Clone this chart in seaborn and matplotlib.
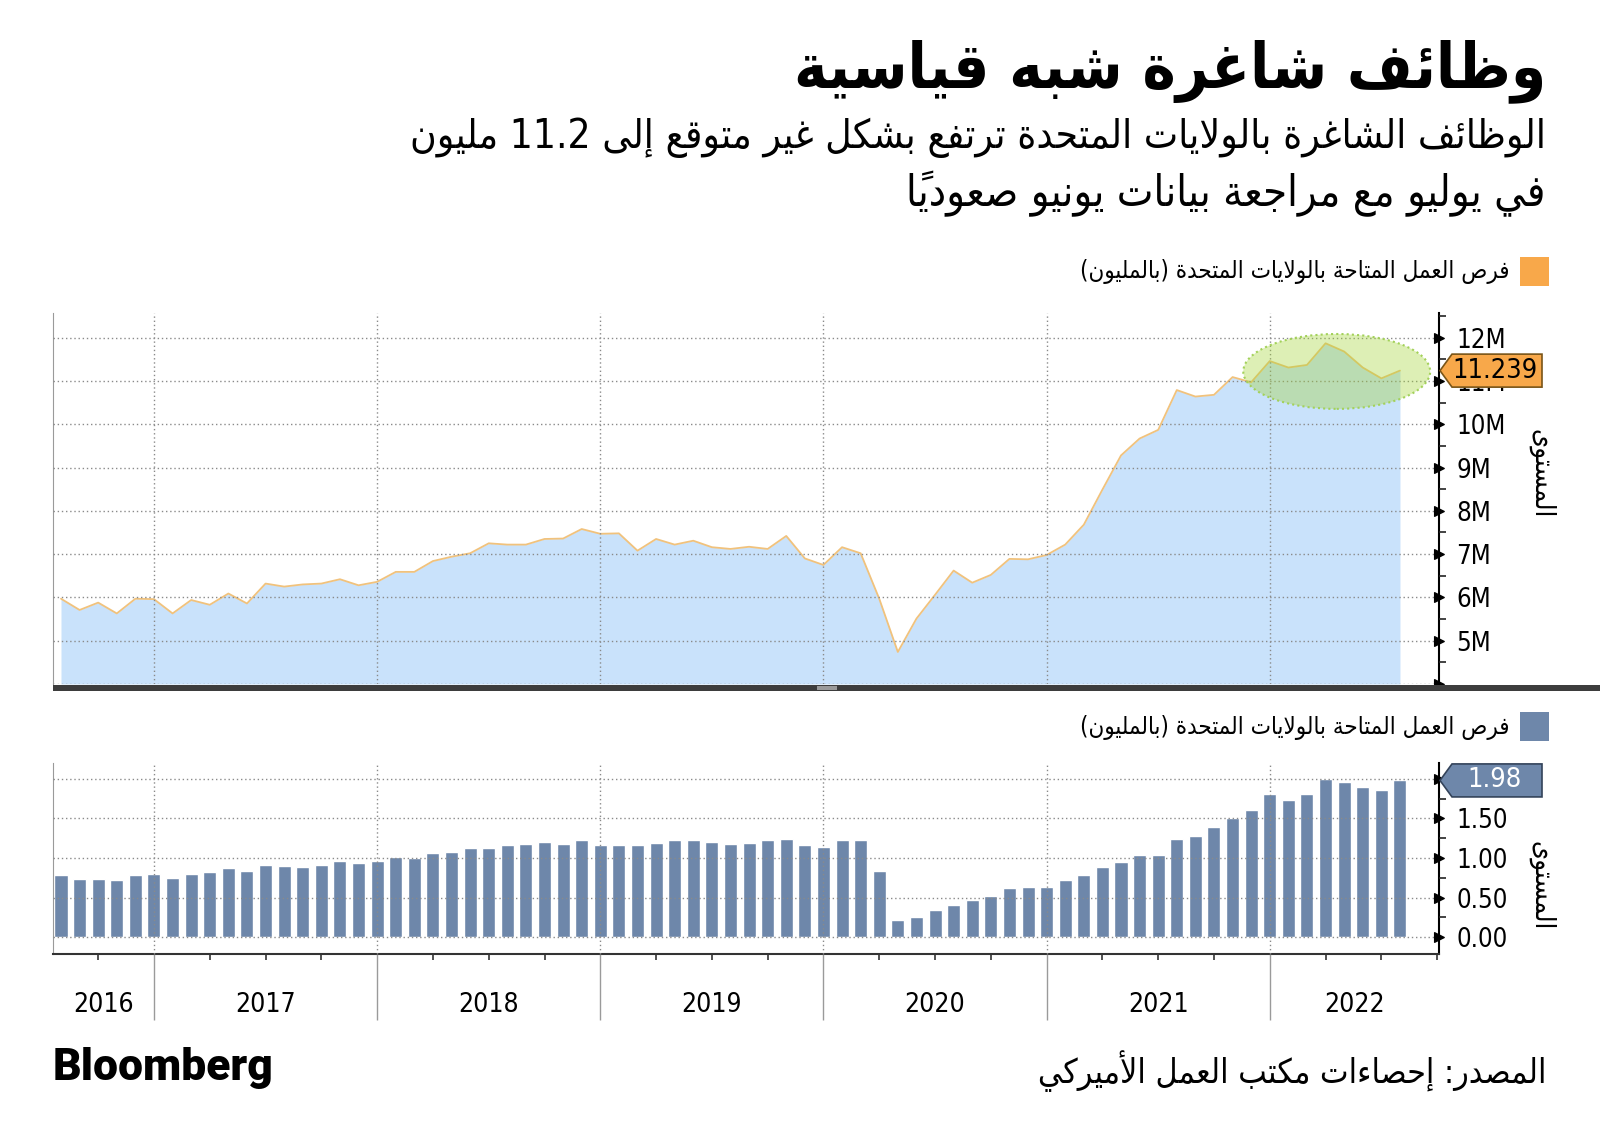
import numpy as np
import pandas as pd
import matplotlib
matplotlib.use("Agg")
import matplotlib.pyplot as plt
import matplotlib.transforms as mtransforms
from matplotlib.patches import Polygon, Rectangle, Ellipse
import seaborn as sns

# ---------------- data ----------------
months = pd.period_range("2016-07", "2022-07", freq="M").strftime("%Y-%m").tolist()
openings = [5.97, 5.71, 5.88, 5.63, 5.97, 5.96, 5.63, 5.94, 5.83, 6.09, 5.86, 6.32,
            6.25, 6.30, 6.32, 6.42, 6.28, 6.36, 6.59, 6.59, 6.84, 6.94, 7.02, 7.25,
            7.22, 7.22, 7.35, 7.36, 7.58, 7.47, 7.48, 7.08, 7.35, 7.22, 7.31, 7.16,
            7.12, 7.17, 7.12, 7.42, 6.90, 6.75, 7.16, 7.02, 5.97, 4.74, 5.51, 6.06,
            6.62, 6.34, 6.52, 6.89, 6.88, 6.98, 7.22, 7.68, 8.49, 9.28, 9.67, 9.87,
            10.79, 10.64, 10.68, 11.09, 10.97, 11.46, 11.31, 11.37, 11.87, 11.68, 11.31, 11.06,
            11.239]
ratio = [0.787, 0.737, 0.737, 0.72, 0.787, 0.804, 0.754, 0.804, 0.821, 0.872, 0.838, 0.918,
         0.901, 0.884, 0.918, 0.964, 0.935, 0.964, 1.015, 0.998, 1.061, 1.078, 1.128, 1.128,
         1.162, 1.179, 1.208, 1.179, 1.225, 1.162, 1.162, 1.162, 1.196, 1.225, 1.225, 1.208,
         1.179, 1.196, 1.225, 1.242, 1.162, 1.145, 1.225, 1.225, 0.834, 0.219, 0.261, 0.345,
         0.413, 0.476, 0.526, 0.623, 0.64, 0.64, 0.72, 0.783, 0.888, 0.947, 1.044, 1.044,
         1.242, 1.276, 1.39, 1.503, 1.604, 1.811, 1.731, 1.811, 2.0, 1.958, 1.891, 1.861,
         1.98]
years = ["2016", "2017", "2018", "2019", "2020", "2021", "2022"]
top_ticks = [4, 5, 6, 7, 8, 9, 10, 11, 12]
top_ticklabels = ["", "5M", "6M", "7M", "8M", "9M", "10M", "11M", "12M"]
bot_ticks = [0.0, 0.5, 1.0, 1.5, 2.0]
bot_ticklabels = ["0.00", "0.50", "1.00", "1.50", ""]   # 2.00 is hidden under the 1.98 tag
last_top_label = "11.239"
last_bot_label = "1.98"

title = "وظائف شاغرة شبه قياسية"
subtitle1 = "الوظائف الشاغرة بالولايات المتحدة ترتفع بشكل غير متوقع إلى 11.2 مليون"
subtitle2 = "في يوليو مع مراجعة بيانات يونيو صعودياً"
legend_text = "فرص العمل المتاحة بالولايات المتحدة (بالمليون)"
axis_label = "المستوى"
source = "المصدر: إحصاءات مكتب العمل الأميركي"

# ---------------- Arabic shaping (presentation forms + RTL order) ----------------
DUAL = {'ئ': 0xFE89, 'ب': 0xFE8F, 'ت': 0xFE95, 'ث': 0xFE99, 'ج': 0xFE9D, 'ح': 0xFEA1,
        'خ': 0xFEA5, 'س': 0xFEB1, 'ش': 0xFEB5, 'ص': 0xFEB9, 'ض': 0xFEBD, 'ط': 0xFEC1,
        'ظ': 0xFEC5, 'ع': 0xFEC9, 'غ': 0xFECD, 'ف': 0xFED1, 'ق': 0xFED5, 'ك': 0xFED9,
        'ل': 0xFEDD, 'م': 0xFEE1, 'ن': 0xFEE5, 'ه': 0xFEE9, 'ي': 0xFEF1}
RIGHT = {'آ': 0xFE81, 'أ': 0xFE83, 'ؤ': 0xFE85, 'إ': 0xFE87, 'ا': 0xFE8D, 'ة': 0xFE93,
         'د': 0xFEA9, 'ذ': 0xFEAB, 'ر': 0xFEAD, 'ز': 0xFEAF, 'و': 0xFEED, 'ى': 0xFEEF}
LAMALEF = {'آ': 0xFEF5, 'أ': 0xFEF7, 'إ': 0xFEF9, 'ا': 0xFEFB}
MARKS = set(chr(c) for c in range(0x064B, 0x0653))
MIRROR = {'(': ')', ')': '(', '[': ']', ']': '['}


def _clusters(s):
    cl = []
    for ch in s:
        if ch in MARKS and cl:
            cl[-1][1] += ch
        else:
            cl.append([ch, ''])
    return cl


def _shape(cl):
    res, k, n, prev = [], 0, len(cl), False
    while k < n:
        b, m = cl[k]
        nxt = cl[k + 1][0] if k + 1 < n else None
        if b == 'ل' and nxt in LAMALEF:
            res.append([chr(LAMALEF[nxt] + (1 if prev else 0)), m + cl[k + 1][1]])
            prev = False
            k += 2
            continue
        if b in DUAL:
            nj = nxt is not None and (nxt in DUAL or nxt in RIGHT)
            base = DUAL[b]
            code = base + (3 if (prev and nj) else 1 if prev else 2 if nj else 0)
            res.append([chr(code), m])
            prev = True
        elif b in RIGHT:
            res.append([chr(RIGHT[b] + (1 if prev else 0)), m])
            prev = False
        else:
            res.append([b, m])
            prev = False
        k += 1
    return res


def ar(s):
    cl = _shape(_clusters(s))
    isl = lambda c: c.isascii() and c.isalnum()
    runs = []
    for i, (b, m) in enumerate(cl):
        t = 'L' if isl(b) else 'R'
        if b in '.,' and 0 < i < len(cl) - 1 and isl(cl[i - 1][0]) and isl(cl[i + 1][0]):
            t = 'L'
        if runs and runs[-1][0] == t:
            runs[-1][1].append((b, m))
        else:
            runs.append([t, [(b, m)]])
    out = ''
    for t, items in reversed(runs):
        if t == 'L':
            out += ''.join(b + m for b, m in items)
        else:
            out += ''.join(MIRROR.get(b, b) + m for b, m in reversed(items))
    return out


# ---------------- style ----------------
sns.set_style("white")
plt.rcParams['font.family'] = ['DejaVu Sans']
plt.rcParams['font.stretch'] = 'condensed'
plt.rcParams['text.color'] = 'black'
plt.rcParams['xtick.color'] = 'black'
plt.rcParams['ytick.color'] = 'black'
plt.rcParams['xtick.bottom'] = True

W, H = 1600, 1147
fig = plt.figure(figsize=(W / 100, H / 100), dpi=100)
fig.patch.set_facecolor("white")

def fx(px): return px / W
def fy(py): return 1 - py / H

AX_L, AX_R = 53, 1439
ax1 = fig.add_axes([fx(AX_L), fy(684), (AX_R - AX_L) / W, (684 - 313) / H])
ax2 = fig.add_axes([fx(AX_L), fy(954), (AX_R - AX_L) / W, (954 - 763) / H])

x = np.arange(len(months))
year_bounds = [5, 17, 29, 41, 53, 65]
XLIM = (-0.43, 74.1)

BLUE_FILL = "#c9e2fb"
LINE_C = "#f1c27c"
BAR_C = "#6e87aa"
ORANGE = "#f8a84a"
GRID_KW = dict(color="#8a8a8a", lw=1.0, ls=(0, (1, 2)))

# ---------------- top area chart ----------------
ax1.fill_between(x, openings, 4.0, color=BLUE_FILL, lw=0, zorder=1)
sns.lineplot(x=x, y=openings, ax=ax1, color=LINE_C, lw=1.3, zorder=2)
ax1.add_patch(Ellipse((68.6, 11.22), 10.05, 1.73, facecolor=(0.63, 0.83, 0.2, 0.36),
                      edgecolor="#a3d15a", lw=1.5, ls=(0, (1, 1.5)), zorder=3))
ax1.set_xlim(*XLIM)
ax1.set_ylim(4.0, 12.57)
ax1.set_xticks(year_bounds)
ax1.set_xticklabels([])
ax1.tick_params(axis='x', length=0)
ax1.set_yticks(top_ticks)
ax1.set_yticklabels(top_ticklabels)
ax1.set_yticks(np.arange(4.5, 12.6, 1.0), minor=True)
ax1.yaxis.tick_right()
ax1.grid(axis='both', which='major', **GRID_KW)
ax1.set_axisbelow(False)
for s in ["top", "bottom"]:
    ax1.spines[s].set_visible(False)
ax1.spines["left"].set_color("#9a9a9a")
ax1.spines["right"].set_color("black")
ax1.spines["right"].set_linewidth(1.5)
ax1.set_xlabel("")
ax1.set_ylabel("")

# ---------------- bottom bar chart ----------------
df = pd.DataFrame({"month": months, "ratio": ratio})
sns.barplot(data=df, x="month", y="ratio", color=BAR_C, saturation=1, width=0.7,
            ax=ax2, zorder=2)
ax2.set_xlim(*XLIM)
ax2.set_ylim(-0.211, 2.2)
quarters = [q for q in range(2, 75, 3) if q not in year_bounds]
ax2.set_xticks(year_bounds)
ax2.set_xticklabels([])
ax2.set_xticks(quarters, minor=True)
ax2.tick_params(axis='x', which='both', bottom=True, direction='out')
ax2.tick_params(axis='x', which='major', length=47.5, width=1, color="#9a9a9a")
ax2.tick_params(axis='x', which='minor', length=4.5, width=1.2, color="#333333")
ax2.set_yticks(bot_ticks)
ax2.set_yticklabels(bot_ticklabels)
ax2.set_yticks([0.25, 0.75, 1.25, 1.75], minor=True)
ax2.yaxis.tick_right()
ax2.grid(axis='both', which='major', **GRID_KW)
ax2.set_axisbelow(False)
ax2.spines["top"].set_visible(False)
ax2.spines["left"].set_color("#9a9a9a")
ax2.spines["right"].set_color("black")
ax2.spines["right"].set_linewidth(1.5)
ax2.spines["bottom"].set_color("#333333")
ax2.spines["bottom"].set_linewidth(1.5)
ax2.set_xlabel("")
ax2.set_ylabel("")

year_mid = [2.3, 11, 23, 35, 47, 59, 69.55]
btr = mtransforms.blended_transform_factory(ax2.transData, ax2.transAxes)
for xm, yl in zip(year_mid, years):
    ax2.text(xm, (954 - 1005) / 191, yl, transform=btr, ha='center', va='center',
             fontsize=19, color="black")

# y tick styling (triangle markers for major, short lines for minor)
for ax in (ax1, ax2):
    ax.tick_params(axis='y', which='major', labelsize=18.5, pad=9, colors="black")
    ax.tick_params(axis='y', which='minor', right=True, length=5, width=1.2, color="#222222",
                   direction='out')
    for t in ax.yaxis.get_major_ticks():
        t.tick2line.set_marker('>')
        t.tick2line.set_markersize(6.5)
        t.tick2line.set_markerfacecolor("black")
        t.tick2line.set_markeredgecolor("black")

# separator band
fig.add_artist(Rectangle((fx(AX_L), fy(691)), 1 - fx(AX_L), 6 / H, transform=fig.transFigure,
                         color="#3d3d3d", lw=0, zorder=5))
fig.add_artist(Rectangle((fx(817), fy(689.5)), 20 / W, 1.2 / H, transform=fig.transFigure,
                         color="#9a9a9a", lw=0, zorder=6))
fig.add_artist(Rectangle((fx(817), fy(687.5)), 20 / W, 1.2 / H, transform=fig.transFigure,
                         color="#9a9a9a", lw=0, zorder=6))


# value tags
def value_tag(ax, val, text, fc, ec, tc):
    yd = ax.transData.transform((0, val))[1]
    yp = H - yd
    x0, x1, h, tip = 1440, 1542, 33, 12
    verts = [(x0, yp), (x0 + tip, yp - h / 2), (x1, yp - h / 2), (x1, yp + h / 2), (x0 + tip, yp + h / 2)]
    fig.add_artist(Polygon([(fx(a), fy(b)) for a, b in verts], closed=True, transform=fig.transFigure,
                           facecolor=fc, edgecolor=ec, lw=1.2, zorder=10))
    fig.text(fx(1495), fy(yp), text, ha='center', va='center', fontsize=19.5, color=tc, zorder=11)


value_tag(ax1, openings[-1], last_top_label, ORANGE, "#7a5518", "black")
value_tag(ax2, ratio[-1], last_bot_label, BAR_C, "#33435a", "white")

# ---------------- texts ----------------
renderer = fig.canvas.get_renderer()


def fit(t, target, use_height=False):
    bb = t.get_window_extent(renderer)
    cur = bb.height if use_height else bb.width
    t.set_fontsize(t.get_fontsize() * target / cur)


t_title = fig.text(fx(1546), fy(71), ar(title), ha='right', va='center', fontsize=48,
                   weight='heavy', color='black')
fit(t_title, 752)
t_s1 = fig.text(fx(1546), fy(138), ar(subtitle1), ha='right', va='center', fontsize=28,
                color='black')
fit(t_s1, 1133)
t_s2 = fig.text(fx(1546), fy(194), ar(subtitle2), ha='right', va='center', fontsize=28,
                color='black')
fit(t_s2, 640)

fig.add_artist(Rectangle((fx(1520), fy(286)), 29 / W, 29 / H, transform=fig.transFigure,
                         color=ORANGE, lw=0))
t_l1 = fig.text(fx(1510), fy(271), ar(legend_text), ha='right', va='center', fontsize=16,
                color='black')
fit(t_l1, 432)
fig.add_artist(Rectangle((fx(1520), fy(741)), 29 / W, 29 / H, transform=fig.transFigure,
                         color=BAR_C, lw=0))
t_l2 = fig.text(fx(1510), fy(727), ar(legend_text), ha='right', va='center', fontsize=16,
                color='black')
fit(t_l2, 432)

t_y1 = fig.text(fx(1541), fy(474), ar(axis_label), ha='center', va='center', rotation=-90,
                fontsize=18, color='black')
fit(t_y1, 89, use_height=True)
t_y2 = fig.text(fx(1541), fy(886), ar(axis_label), ha='center', va='center', rotation=-90,
                fontsize=18, color='black')
fit(t_y2, 89, use_height=True)

t_src = fig.text(fx(1546), fy(1071), ar(source), ha='right', va='center', fontsize=24,
                 color='black')
fit(t_src, 510)
t_bb = fig.text(fx(53), fy(1068), "Bloomberg", ha='left', va='center', fontsize=30,
                weight='black', family=['Roboto', 'DejaVu Sans'], stretch='normal',
                color='black')
fit(t_bb, 220)

fig.savefig("out.png", dpi=100, facecolor="white")
